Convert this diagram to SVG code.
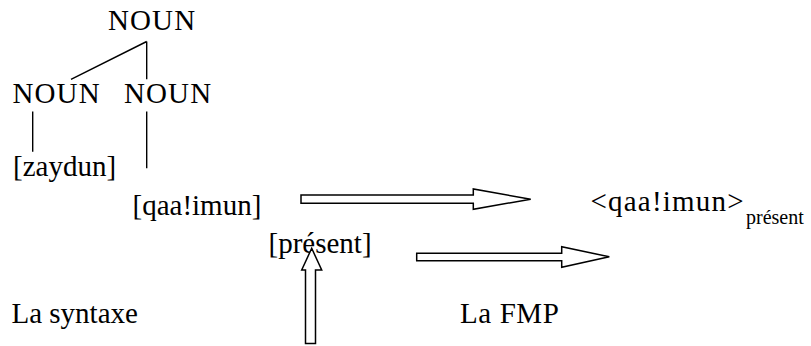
<svg xmlns="http://www.w3.org/2000/svg" width="811" height="346" viewBox="0 0 811 346">
<rect width="811" height="346" fill="#fff"/>
<g id="noun-top"><text x="108" y="29.5" font-family="Liberation Serif, Times New Roman, serif" font-size="29" letter-spacing="1.1">NOUN</text></g>
<g id="noun-left"><text x="12.5" y="102.5" font-family="Liberation Serif, Times New Roman, serif" font-size="29" letter-spacing="1.1">NOUN</text></g>
<g id="noun-right"><text x="124" y="102.5" font-family="Liberation Serif, Times New Roman, serif" font-size="29" letter-spacing="1.1">NOUN</text></g>
<g id="zaydun"><text x="13" y="175.5" font-family="Liberation Serif, Times New Roman, serif" font-size="29">[zaydun]</text></g>
<g id="qaaimun"><text x="132.5" y="215" font-family="Liberation Serif, Times New Roman, serif" font-size="29">[qaa!imun]</text></g>
<g id="present"><text x="268.5" y="252.5" font-family="Liberation Serif, Times New Roman, serif" font-size="29">[présent]</text></g>
<g id="qaaimun-present"><text x="590.5" y="211" font-family="Liberation Serif, Times New Roman, serif" font-size="29" letter-spacing="1.2">&lt;qaa!imun&gt;</text><text x="746" y="224" font-family="Liberation Serif, Times New Roman, serif" font-size="20">présent</text></g>
<g id="la-syntaxe"><text x="11.5" y="322.7" font-family="Liberation Serif, Times New Roman, serif" font-size="29">La syntaxe</text></g>
<g id="la-fmp"><text x="460" y="322.7" font-family="Liberation Serif, Times New Roman, serif" font-size="29" letter-spacing="0.6">La FMP</text></g>
<g id="connectors" stroke="#000" stroke-linejoin="miter">
<path fill="none" stroke-width="1.4" d="M146.7 41.5 L71 79.3 M146.7 41.5 V79.3 M32.7 111.5 V151.7 M146.7 111.5 V168.3"/>
<path fill="#fff" stroke-width="1.5" d="M301 195 H473.3 V189 L530.7 199.2 L473.3 209.3 V203.3 H301 Z"/>
<path fill="#fff" stroke-width="1.5" d="M416.7 253.3 H561.7 V246.7 L609.3 256.8 L561.7 267.3 V260.7 H416.7 Z"/>
<path fill="#fff" stroke-width="1.5" d="M305.5 343.5 V270 H301.7 L311.7 248.3 L321.7 270 H315.5 V343.5 Z"/>
</g>
</svg>
